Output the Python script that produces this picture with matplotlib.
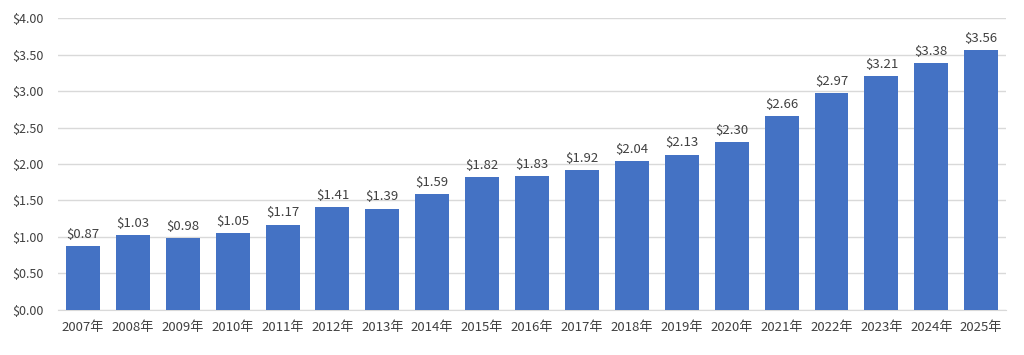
import matplotlib
matplotlib.use('Agg')
import matplotlib.pyplot as plt
from matplotlib.ticker import FuncFormatter

plt.rcParams['font.family'] = ['Noto Sans CJK JP', 'DejaVu Sans']

# data
years = [f'{y}年' for y in range(2007, 2026)]
prices = [0.87, 1.03, 0.98, 1.05, 1.17, 1.41, 1.39, 1.59, 1.82, 1.83,
          1.92, 2.04, 2.13, 2.30, 2.66, 2.97, 3.21, 3.38, 3.56]

text_color = '#404040'

fig = plt.figure(figsize=(10.24, 3.55), dpi=100)
ax = fig.add_axes([0.0566, 0.127, 0.926, 0.822])

x = range(len(years))
bars = ax.bar(x, prices, width=0.68, color='#4472C4', zorder=3)

for xi, v in zip(x, prices):
    ax.text(xi, v + 0.07, f'${v:.2f}', ha='center', va='bottom',
            fontsize=9.5, color=text_color)

ax.set_ylim(0, 4)
ax.set_xlim(-0.5, len(years) - 0.5)
ax.set_yticks([i * 0.5 for i in range(9)])
ax.yaxis.set_major_formatter(FuncFormatter(lambda v, p: f'${v:.2f}'))
ax.set_xticks(list(x))
ax.set_xticklabels(years)

ax.grid(axis='y', color='#D9D9D9', linewidth=1, zorder=0)
for s in ['top', 'right', 'left']:
    ax.spines[s].set_visible(False)
ax.spines['bottom'].set_color('#D9D9D9')
ax.tick_params(axis='both', length=0, colors=text_color)
ax.tick_params(axis='x', pad=8, labelsize=9.5)
ax.tick_params(axis='y', pad=10, labelsize=9)

fig.savefig('out.png', dpi=100)
